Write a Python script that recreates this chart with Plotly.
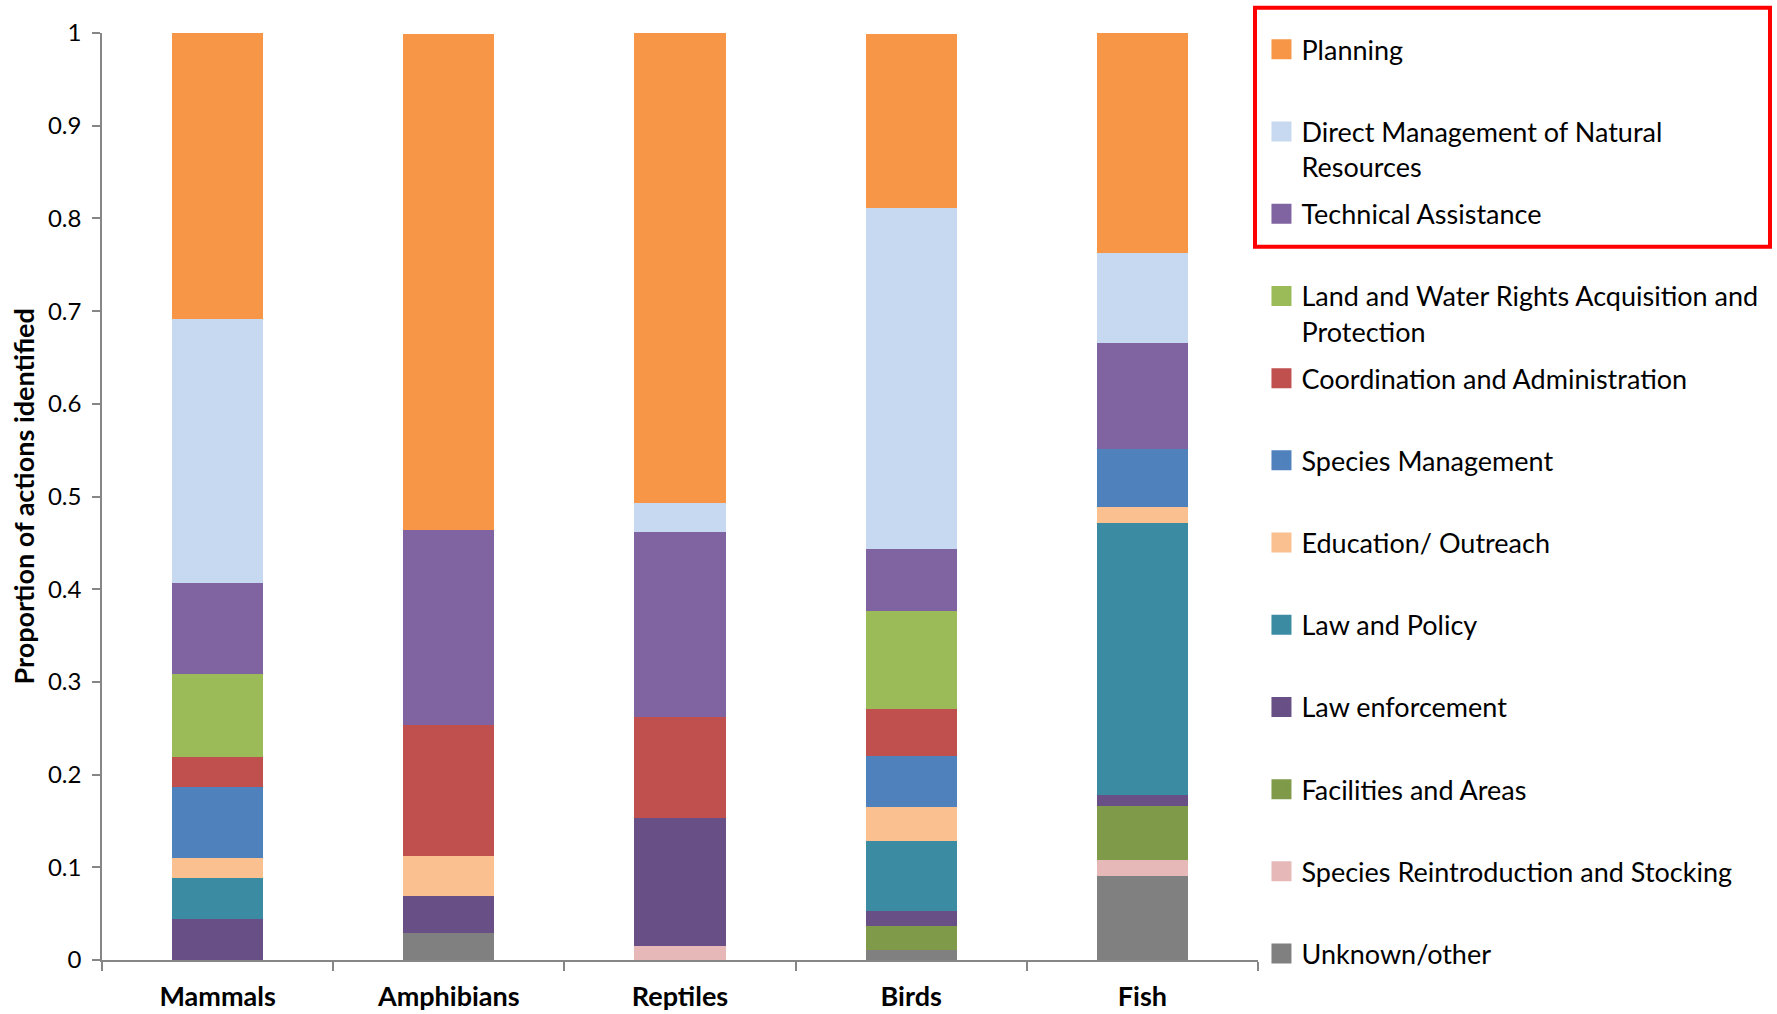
import plotly.graph_objects as go

categories = ["Mammals", "Amphibians", "Reptiles", "Birds", "Fish"]

# series listed bottom-to-top in the stack
unknown_other   = [0.000, 0.029, 0.000, 0.011, 0.091]
reintroduction  = [0.000, 0.000, 0.015, 0.000, 0.017]
facilities      = [0.000, 0.000, 0.000, 0.026, 0.058]
law_enforcement = [0.044, 0.040, 0.138, 0.016, 0.012]
law_policy      = [0.044, 0.000, 0.000, 0.075, 0.293]
education       = [0.022, 0.043, 0.000, 0.037, 0.018]
species_mgmt    = [0.077, 0.000, 0.000, 0.055, 0.062]
coordination    = [0.032, 0.142, 0.109, 0.051, 0.000]
land_water      = [0.089, 0.000, 0.000, 0.106, 0.000]
technical       = [0.099, 0.210, 0.200, 0.066, 0.115]
direct_mgmt     = [0.285, 0.000, 0.031, 0.368, 0.097]
planning        = [0.308, 0.535, 0.507, 0.188, 0.237]

series_names = [
    "Unknown/other",
    "Species Reintroduction and Stocking",
    "Facilities and Areas",
    "Law enforcement",
    "Law and Policy",
    "Education/ Outreach",
    "Species Management",
    "Coordination and Administration",
    "Land and Water Rights Acquisition and<br>Protection",
    "Technical Assistance",
    "Direct Management of Natural<br>Resources",
    "Planning",
]
series_values = [unknown_other, reintroduction, facilities, law_enforcement,
                 law_policy, education, species_mgmt, coordination, land_water,
                 technical, direct_mgmt, planning]
series_colors = ["#808080", "#E6B9B8", "#7F9A48", "#684F85", "#3B8CA2", "#FAC090",
                 "#4F81BD", "#C0504D", "#9BBB59", "#8064A2", "#C6D9F0", "#F79646"]

y_tick_vals = [0, 0.1, 0.2, 0.3, 0.4, 0.5, 0.6, 0.7, 0.8, 0.9, 1]
y_tick_text = ["0", "0.1", "0.2", "0.3", "0.4", "0.5", "0.6", "0.7", "0.8", "0.9", "1"]

FONT = "Lato"
fig = go.Figure()

for name, vals, col in zip(series_names, series_values, series_colors):
    fig.add_trace(go.Bar(
        x=categories, y=vals, name=name.replace("<br>", " "),
        marker=dict(color=col, line=dict(width=0)),
        showlegend=False,
    ))

# legend entries (top-to-bottom order as in the reference)
for name, col in list(zip(series_names, series_colors))[::-1]:
    label = name if "<br>" in name else name + "<br>\u00a0"
    fig.add_trace(go.Scatter(
        x=[None], y=[None], mode="markers", name=label,
        legendgroup=name,
        marker=dict(symbol="square", size=16, color=col,
                    line=dict(color=col, width=4)),
        showlegend=True, hoverinfo="skip",
    ))

fig.update_layout(
    width=1777, height=1014,
    barmode="stack", bargap=0.605,
    plot_bgcolor="white", paper_bgcolor="white",
    margin=dict(l=102, r=519, t=33, b=54),
    font=dict(family=FONT, color="black"),
    legend=dict(
        x=1.003, y=1.0083, xanchor="left", yanchor="top",
        traceorder="grouped", tracegroupgap=9,
        valign="top", itemsizing="trace", itemwidth=30,
        maxheight=1010,
        font=dict(family=FONT, size=27, color="black"),
        bgcolor="rgba(0,0,0,0)",
    ),
    xaxis=dict(
        automargin=False,
        showline=True, linecolor="#868686", linewidth=1.5,
        ticks="outside", tickson="boundaries", ticklen=9,
        tickcolor="#868686", tickwidth=1.5,
        tickfont=dict(family=FONT, size=27, weight="bold", color="black"),
        ticklabelstandoff=12,
        showgrid=False, zeroline=False,
    ),
    yaxis=dict(
        automargin=False,
        range=[0, 1], showline=True, linecolor="#868686", linewidth=1.5,
        ticks="outside", ticklen=8, tickcolor="#868686", tickwidth=1.5,
        tickvals=y_tick_vals, ticktext=y_tick_text,
        tickfont=dict(family=FONT, size=24, color="black"),
        ticklabelstandoff=6,
        showgrid=False, zeroline=False,
    ),
    annotations=[dict(
        text="Proportion of actions identified", textangle=-90,
        xref="paper", yref="paper", x=-0.0683, y=0.5,
        xanchor="center", yanchor="middle", showarrow=False,
        font=dict(family=FONT, size=27, weight="bold", color="black"),
    )],
    shapes=[dict(type="rect", xref="paper", yref="paper",
                 x0=0.9974, x1=1.4429, y0=0.7694, y1=1.0273,
                 line=dict(color="#FF0000", width=4), fillcolor="rgba(0,0,0,0)")],
)

fig.write_html("out.html")
